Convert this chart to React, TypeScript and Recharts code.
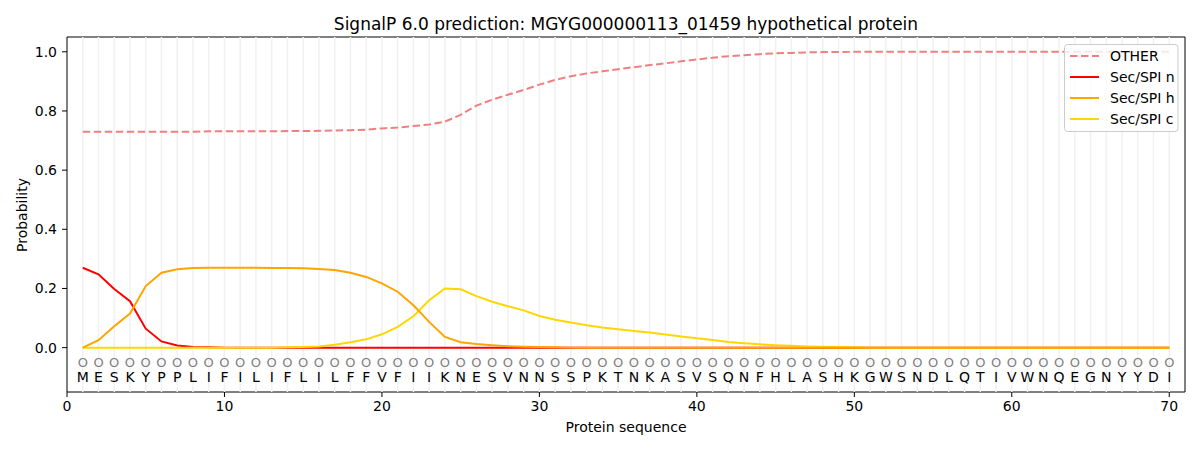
import React from "react";
import {
  LineChart,
  Line,
  XAxis,
  YAxis,
  ReferenceLine,
  ReferenceArea,
} from "recharts";

// Protein sequence (one letter per position)
const RESIDUES =
  "MESKYPPLIFILIFLILFFVFIIKNESVNNSSPKTNKASVSQNFHLASHKGWSNDLQTIVWNQEGNYYDI".split("");

// Per-position probabilities
const OTHER = [
  0.730, 0.730, 0.730, 0.730, 0.730, 0.730, 0.730, 0.730, 0.731, 0.731,
  0.731, 0.731, 0.731, 0.732, 0.732, 0.733, 0.734, 0.735, 0.737, 0.741,
  0.744, 0.749, 0.754, 0.764, 0.787, 0.818, 0.838, 0.855, 0.871, 0.889,
  0.905, 0.917, 0.927, 0.934, 0.941, 0.948, 0.955, 0.961, 0.968, 0.974,
  0.980, 0.985, 0.988, 0.992, 0.995, 0.996, 0.998, 0.999, 0.999, 1.000,
  1.000, 1.000, 1.000, 1.000, 1.000, 1.000, 1.000, 1.000, 1.000, 1.000,
  1.000, 1.000, 1.000, 1.000, 1.000, 1.000, 1.000, 1.000, 1.000, 1.000,
];

const SEC_N = [
  0.270, 0.248, 0.198, 0.157, 0.064, 0.021, 0.007, 0.002, 0.001, 0.000,
  0, 0, 0, 0, 0, 0, 0, 0, 0, 0,
  0, 0, 0, 0, 0, 0, 0, 0, 0, 0,
  0, 0, 0, 0, 0, 0, 0, 0, 0, 0,
  0, 0, 0, 0, 0, 0, 0, 0, 0, 0,
  0, 0, 0, 0, 0, 0, 0, 0, 0, 0,
  0, 0, 0, 0, 0, 0, 0, 0, 0, 0,
];

const SEC_H = [
  0.000, 0.025, 0.072, 0.115, 0.208, 0.253, 0.265, 0.269, 0.270, 0.270,
  0.270, 0.270, 0.269, 0.269, 0.268, 0.266, 0.262, 0.253, 0.239, 0.217,
  0.189, 0.143, 0.087, 0.036, 0.018, 0.012, 0.008, 0.005, 0.003, 0.002,
  0.001, 0, 0, 0, 0, 0, 0, 0, 0, 0,
  0, 0, 0, 0, 0, 0, 0, 0, 0, 0,
  0, 0, 0, 0, 0, 0, 0, 0, 0, 0,
  0, 0, 0, 0, 0, 0, 0, 0, 0, 0,
];

const SEC_C = [
  0, 0, 0, 0, 0, 0, 0, 0, 0, 0,
  0, 0, 0, 0.001, 0.002, 0.004, 0.010, 0.018, 0.028, 0.045,
  0.070, 0.106, 0.160, 0.200, 0.197, 0.174, 0.155, 0.140, 0.126, 0.107,
  0.094, 0.085, 0.076, 0.068, 0.062, 0.056, 0.051, 0.044, 0.038, 0.032,
  0.026, 0.019, 0.015, 0.011, 0.008, 0.006, 0.004, 0.003, 0.002, 0.001,
  0, 0, 0, 0, 0, 0, 0, 0, 0, 0,
  0, 0, 0, 0, 0, 0, 0, 0, 0, 0,
];

const X_TICKS = [0, 10, 20, 30, 40, 50, 60, 70];
const Y_TICKS = [0, 0.2, 0.4, 0.6, 0.8, 1.0];

const SERIES = [
  { key: "other", name: "OTHER", color: "#f08080", dash: "7.5 3.5" },
  { key: "n", name: "Sec/SPI n", color: "#ff0000" },
  { key: "h", name: "Sec/SPI h", color: "#ffa500" },
  { key: "c", name: "Sec/SPI c", color: "#ffd700" },
];

const chartData = RESIDUES.map((aa, i) => ({
  pos: i + 1,
  aa,
  other: OTHER[i],
  n: SEC_N[i],
  h: SEC_H[i],
  c: SEC_C[i],
}));

// row where the region labels / residues are written (below zero)
const LABEL_ROW = -0.05;

const renderResidue = (p: any) => (
  <g key={`aa-${p.index}`}>
    <text x={p.cx} y={p.cy + 4.5} textAnchor="middle" fontSize={13} fill="#808080">
      O
    </text>
    <text x={p.cx} y={p.cy + 20} textAnchor="middle" fontSize={14} fill="#000">
      {p.payload.aa}
    </text>
  </g>
);

const App = () => {
  const drawOrder = ["other", "n", "c", "h"];
  return (
    <div
      style={{
        position: "absolute",
        left: 0,
        top: 0,
        width: 1200,
        height: 450,
        background: "#fff",
        fontFamily: "'DejaVu Sans', sans-serif",
      }}
    >
      <LineChart
        width={1200}
        height={450}
        data={chartData}
        margin={{ top: 37, right: 15, bottom: 28, left: 0 }}
      >
        <XAxis
          dataKey="pos"
          type="number"
          domain={[0, 71]}
          ticks={X_TICKS}
          interval={0}
          allowDataOverflow
          axisLine={false}
          tickSize={5}
          tickMargin={4}
          tickLine={{ stroke: "#000" }}
          tick={{ fill: "#000", fontSize: 14 }}
        />
        <YAxis
          type="number"
          domain={[-0.15, 1.05]}
          ticks={Y_TICKS}
          interval={0}
          allowDataOverflow
          width={67}
          axisLine={false}
          tickSize={5}
          tickMargin={5}
          tickLine={{ stroke: "#000" }}
          tick={{ fill: "#000", fontSize: 14 }}
          tickFormatter={(v: number) => v.toFixed(1)}
        />
        {chartData.map((d) => (
          <ReferenceLine
            key={`grid-${d.pos}`}
            x={d.pos}
            stroke="#f1f1f1"
            strokeWidth={1.5}
          />
        ))}
        <ReferenceArea
          x1={0}
          x2={71}
          y1={-0.15}
          y2={1.05}
          fill="none"
          fillOpacity={0}
          stroke="#000"
          strokeWidth={1}
          ifOverflow="visible"
        />
        {drawOrder.map((k) => {
          const s = SERIES.find((x) => x.key === k)!;
          return (
            <Line
              key={s.key}
              dataKey={s.key}
              type="linear"
              stroke={s.color}
              strokeWidth={2}
              strokeDasharray={s.dash}
              dot={false}
              activeDot={false}
              isAnimationActive={false}
            />
          );
        })}
        <Line
          dataKey={() => LABEL_ROW}
          stroke="none"
          dot={renderResidue}
          activeDot={false}
          isAnimationActive={false}
        />
      </LineChart>
      <svg
        width={1200}
        height={450}
        style={{ position: "absolute", left: 0, top: 0, pointerEvents: "none" }}
      >
        <text x={626} y={30} textAnchor="middle" fontSize={17} fill="#000">
          SignalP 6.0 prediction: MGYG000000113_01459 hypothetical protein
        </text>
        <text x={626} y={432} textAnchor="middle" fontSize={14} fill="#000">
          Protein sequence
        </text>
        <text
          x={27}
          y={215}
          textAnchor="middle"
          fontSize={14}
          fill="#000"
          transform="rotate(-90 27 215)"
        >
          Probability
        </text>
        <rect
          x={1064.5}
          y={44.5}
          width={113.5}
          height={87}
          rx={3}
          fill="#fff"
          fillOpacity={0.8}
          stroke="#cccccc"
        />
        {SERIES.map((s, i) => {
          const y = 56 + i * 21;
          return (
            <g key={`leg-${s.key}`}>
              <line
                x1={1070}
                x2={1099}
                y1={y}
                y2={y}
                stroke={s.color}
                strokeWidth={2}
                strokeDasharray={s.dash}
              />
              <text x={1110} y={y + 5} fontSize={14} fill="#000">
                {s.name}
              </text>
            </g>
          );
        })}
      </svg>
    </div>
  );
};

export default App;
